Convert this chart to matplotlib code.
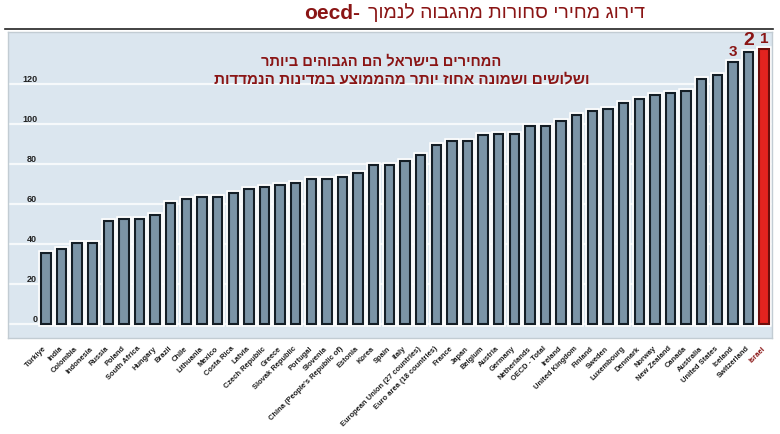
import matplotlib
matplotlib.use("Agg")
import matplotlib.pyplot as plt
from matplotlib.lines import Line2D

plt.rcParams['font.family'] = ['Liberation Sans', 'DejaVu Sans']

# OECD price level index, lowest to highest
countries = ["Türkiye", "India", "Colombia", "Indonesia", "Russia", "Poland",
             "South Africa", "Hungary", "Brazil", "Chile", "Lithuania", "Mexico",
             "Costa Rica", "Latvia", "Czech Republic", "Greece", "Slovak Republic",
             "Portugal", "Slovenia", "China (People's Republic of)", "Estonia",
             "Korea", "Spain", "Italy", "European Union (27 countries)",
             "Euro area (18 countries)", "France", "Japan", "Belgium", "Austria",
             "Germany", "Netherlands", "OECD - Total", "Ireland", "United Kingdom",
             "Finland", "Sweden", "Luxembourg", "Denmark", "Norway", "New Zealand",
             "Canada", "Australia", "United States", "Iceland", "Switzerland", "Israel"]
values = [35.5, 37.5, 40.5, 40.5, 51.5, 52.5, 52.5, 54.5, 60.5, 62.5, 63.5, 63.5,
          65.5, 67.5, 68.5, 69.5, 70.5, 72.5, 72.5, 73.5, 75.5, 79.5, 79.5, 81.5,
          84.5, 89.5, 91.3, 91.3, 94.3, 95.0, 95.0, 99.0, 99.2, 101.5, 104.3,
          106.5, 107.3, 110.5, 112.3, 114.3, 115.5, 116.5, 122.3, 124.5, 131.3,
          136.3, 137.5]
yticks = [0, 20, 40, 60, 80, 100, 120]
ranks = {"Israel": "1", "Switzerland": "2", "Iceland": "3"}

# hebrew texts (stored in logical order, reversed for display since mpl has no bidi)
title_he = "דירוג מחירי סחורות מהגבוה לנמוך"
note1 = "המחירים בישראל הם הגבוהים ביותר"
note2 = "ושלושים ושמונה אחוז יותר מהממוצע במדינות הנמדדות"

dark_red = "#8a1515"
colors = ["#e3231f" if c == "Israel" else "#7b94a6" for c in countries]
edges = ["#6e0d0b" if c == "Israel" else "#141e26" for c in countries]

fig = plt.figure(figsize=(7.8, 4.34), dpi=100)
ax = fig.add_axes([0.0103, 0.2212, 0.9794, 0.7048])
ax.set_facecolor("#dbe6ef")

x = list(range(len(countries)))
# white glow behind bars
ax.bar(x, values, width=0.6, color="none", edgecolor="white", linewidth=4, zorder=2)
ax.bar(x, values, width=0.6, color=colors, edgecolor=edges, linewidth=1.5, zorder=3)

ax.set_xlim(-2.42, len(countries) - 0.5)
ax.set_ylim(-7, 146)
ax.set_axisbelow(True)
ax.set_yticks(yticks)
ax.grid(axis="y", color="#f6f9fb", linewidth=1.6)
ax.tick_params(axis="y", length=0, pad=-21, labelsize=6.5)
plt.setp(ax.get_yticklabels(), va="bottom", fontweight="bold", color="#222222")

ax.set_xticks(x)
ax.set_xticklabels(countries, rotation=45, ha="right", va="center",
                   rotation_mode="anchor", fontsize=5.4, fontweight="bold",
                   color="#1e1e1e")
ax.tick_params(axis="x", length=0, pad=7)
for lbl in ax.get_xticklabels():
    if lbl.get_text() == "Israel":
        lbl.set_color(dark_red)

for s in ax.spines.values():
    s.set_color("#c2ccd3")
    s.set_linewidth(1)

# rank numbers above the top three
for i, c in enumerate(countries):
    if c in ranks:
        fs = 14 if ranks[c] == "2" else 11
        ax.annotate(ranks[c], (i, values[i]), xytext=(0, 2), textcoords="offset points",
                    ha="center", va="bottom", fontsize=fs, fontweight="bold",
                    color=dark_red)

# title with rule beneath
fig.text(0.827, 0.970, title_he[::-1], ha="right", va="center", fontsize=14,
         color=dark_red)
fig.text(0.462, 0.970, "oecd-", ha="right", va="center", fontsize=15,
         fontweight="bold", color=dark_red)
fig.add_artist(Line2D([0.006, 0.991], [0.933, 0.933], color="#222222", linewidth=1.2))

fig.text(0.488, 0.858, note1[::-1], ha="center", va="center", fontsize=10.5,
         fontweight="bold", color=dark_red)
fig.text(0.515, 0.818, note2[::-1], ha="center", va="center", fontsize=11,
         fontweight="bold", color=dark_red)

fig.savefig("out.png", dpi=100)
